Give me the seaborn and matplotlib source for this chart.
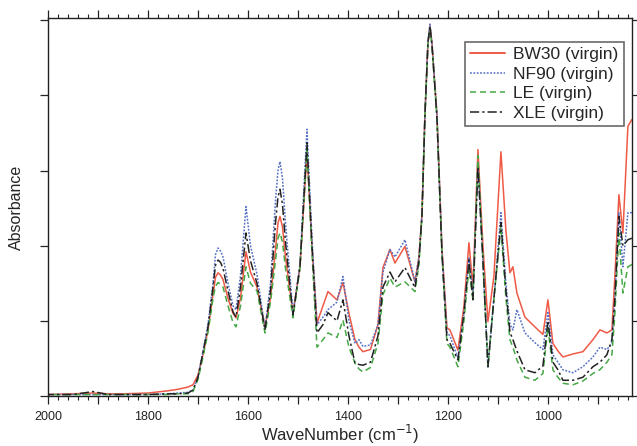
import numpy as np
import pandas as pd
import matplotlib
matplotlib.use('Agg')
import matplotlib.pyplot as plt
from matplotlib.ticker import MultipleLocator, FuncFormatter
import seaborn as sns

# wavenumber grid (cm-1)
wavenumber = [2000, 1950, 1910, 1880, 1850, 1800, 1760, 1740, 1720, 1710, 1700, 1690, 1680,
              1670, 1665, 1660, 1655, 1650, 1640, 1630, 1624, 1615, 1604, 1595, 1582, 1566,
              1555, 1545, 1540, 1536, 1531, 1525, 1510, 1496, 1482, 1472, 1462, 1450, 1440,
              1422, 1410, 1398, 1386, 1378, 1370, 1355, 1340, 1330, 1316, 1306, 1286, 1266,
              1258, 1252, 1246, 1240, 1236, 1232, 1222, 1212, 1202, 1196, 1180, 1168, 1158,
              1150, 1140, 1130, 1120, 1108, 1094, 1084, 1076, 1070, 1062, 1046, 1026, 1010,
              1000, 990, 980, 970, 950, 930, 910, 896, 882, 872, 866, 858, 850, 840, 832]

bw30 = [0.02, 0.03, 0.04, 0.03, 0.03, 0.04, 0.07, 0.09, 0.12, 0.15, 0.28, 0.55, 0.88,
        1.35, 1.58, 1.64, 1.61, 1.55, 1.30, 1.10, 1.04, 1.30, 1.92, 1.65, 1.45, 0.92,
        1.30, 1.95, 2.30, 2.39, 2.25, 1.85, 1.10, 1.72, 3.24, 2.00, 0.97, 1.20, 1.39,
        1.28, 1.51, 1.10, 0.75, 0.65, 0.59, 0.62, 0.95, 1.71, 1.95, 1.77, 1.99, 1.52,
        1.85, 2.41, 3.75, 4.70, 4.93, 4.70, 3.75, 1.97, 0.91, 0.88, 0.61, 1.20, 2.04,
        1.45, 3.28, 2.00, 0.99, 1.60, 3.25, 2.20, 1.64, 1.72, 1.37, 1.05, 0.92, 0.82,
        1.28, 0.70, 0.60, 0.52, 0.56, 0.59, 0.75, 0.88, 0.84, 0.88, 1.60, 2.68, 2.17,
        3.59, 3.68]

nf90 = [0.02, 0.02, 0.02, 0.02, 0.02, 0.02, 0.03, 0.04, 0.05, 0.08, 0.25, 0.60, 0.95,
        1.50, 1.88, 1.97, 1.93, 1.85, 1.50, 1.20, 1.15, 1.60, 2.52, 2.00, 1.62, 0.90,
        1.50, 2.60, 3.00, 3.12, 2.90, 2.30, 1.10, 1.75, 3.55, 2.10, 0.95, 1.05, 1.15,
        1.25, 1.59, 1.00, 0.70, 0.75, 0.66, 0.68, 0.95, 1.65, 1.95, 1.85, 2.08, 1.52,
        1.85, 2.41, 3.75, 4.72, 4.95, 4.70, 3.75, 1.95, 0.85, 0.80, 0.51, 1.10, 1.85,
        1.35, 3.11, 1.80, 0.39, 1.30, 2.44, 1.50, 0.95, 0.88, 1.15, 0.84, 0.71, 0.62,
        1.11, 0.55, 0.45, 0.35, 0.31, 0.39, 0.52, 0.65, 0.62, 0.70, 1.30, 2.44, 1.72,
        2.44, 2.44]

le = [0.02, 0.02, 0.02, 0.02, 0.02, 0.02, 0.02, 0.03, 0.03, 0.06, 0.22, 0.52, 0.85,
      1.30, 1.46, 1.51, 1.49, 1.45, 1.20, 0.98, 0.92, 1.20, 1.72, 1.50, 1.40, 0.84,
      1.25, 1.80, 2.10, 2.17, 2.05, 1.70, 1.04, 1.70, 3.28, 1.90, 0.65, 0.75, 0.84,
      0.78, 1.01, 0.65, 0.44, 0.36, 0.32, 0.38, 0.70, 1.35, 1.57, 1.45, 1.52, 1.39,
      1.75, 2.38, 3.72, 4.68, 4.90, 4.66, 3.70, 1.90, 0.70, 0.65, 0.39, 1.00, 1.70,
      1.28, 3.20, 1.80, 0.39, 1.30, 2.25, 1.30, 0.75, 0.65, 0.48, 0.25, 0.21, 0.30,
      0.92, 0.35, 0.25, 0.17, 0.15, 0.20, 0.30, 0.35, 0.45, 0.55, 1.10, 2.17, 1.37,
      1.72, 1.75]

xle = [0.02, 0.02, 0.06, 0.02, 0.02, 0.02, 0.03, 0.03, 0.04, 0.08, 0.25, 0.58, 0.92,
       1.45, 1.74, 1.81, 1.78, 1.70, 1.40, 1.12, 1.05, 1.45, 2.17, 1.80, 1.50, 0.88,
       1.40, 2.30, 2.65, 2.75, 2.55, 2.05, 1.08, 1.72, 3.37, 2.00, 0.84, 0.95, 1.11,
       1.00, 1.28, 0.80, 0.44, 0.42, 0.41, 0.45, 0.80, 1.45, 1.65, 1.52, 1.71, 1.44,
       1.80, 2.40, 3.75, 4.70, 4.92, 4.68, 3.70, 1.90, 0.75, 0.70, 0.48, 1.10, 1.81,
       1.28, 3.05, 1.80, 0.39, 1.30, 2.31, 1.40, 0.85, 0.75, 0.60, 0.35, 0.31, 0.40,
       1.00, 0.45, 0.35, 0.21, 0.21, 0.25, 0.39, 0.45, 0.55, 0.75, 1.30, 2.39, 2.00,
       2.08, 2.10]

labels = ['BW30 (virgin)', 'NF90 (virgin)', 'LE (virgin)', 'XLE (virgin)']


def main():
    df = pd.concat([
        pd.DataFrame({'wn': wavenumber, 'abs': vals, 'sample': lab})
        for lab, vals in zip(labels, [bw30, nf90, le, xle])
    ], ignore_index=True)

    sns.set_style('ticks')
    plt.rcParams['font.family'] = ['Liberation Sans', 'DejaVu Sans']

    fig = plt.figure(figsize=(6.37, 4.46), dpi=100)
    ax = fig.add_axes([0.0754, 0.112, 0.9166, 0.8476])

    palette = {labels[0]: '#ee5a45', labels[1]: '#5570c4',
               labels[2]: '#45a845', labels[3]: '#222222'}
    dashes = {labels[0]: '', labels[1]: (1.2, 1.0),
              labels[2]: (4, 2.5), labels[3]: (6, 2, 1.5, 2)}
    sns.lineplot(data=df, x='wn', y='abs', hue='sample', style='sample',
                 palette=palette, dashes=dashes, estimator=None, sort=True,
                 linewidth=1.1, ax=ax)
    for line in ax.get_lines():
        if line.get_label() == labels[0]:
            line.set_linewidth(1.4)

    ax.set_xlim(2000, 832)
    ax.set_ylim(0, 5.03)
    ax.xaxis.set_major_locator(MultipleLocator(100))
    ax.xaxis.set_minor_locator(MultipleLocator(20))
    ax.xaxis.set_major_formatter(FuncFormatter(
        lambda v, p: f'{int(round(v))}' if int(round(v)) % 200 == 0 else ''))
    ax.yaxis.set_major_locator(MultipleLocator(1))
    ax.yaxis.set_major_formatter(FuncFormatter(lambda v, p: ''))
    ax.tick_params(axis='x', which='both', top=True, bottom=True, direction='out',
                   labelsize=9, colors='#222222', pad=5)
    ax.tick_params(axis='x', which='major', length=6, width=0.9)
    ax.tick_params(axis='x', which='minor', length=3, width=0.8)
    ax.tick_params(axis='y', which='major', left=True, right=True, direction='out',
                   length=6, width=0.9)
    for s in ax.spines.values():
        s.set_visible(True)
        s.set_linewidth(1.0)
        s.set_color('#222222')

    ax.set_xlabel('WaveNumber (cm$^{-1}$)', fontsize=12)
    ax.xaxis.set_label_coords(0.5, -0.072)
    ax.set_ylabel('Absorbance', fontsize=11.5, labelpad=8)

    leg = ax.legend(loc='upper right', bbox_to_anchor=(0.986, 0.937), fontsize=12.5,
                    frameon=True, fancybox=False, handlelength=2.0,
                    labelspacing=0.25, borderpad=0.3, handletextpad=0.5,
                    borderaxespad=0.0)
    leg.get_frame().set_edgecolor('#444444')
    leg.get_frame().set_linewidth(1.2)

    fig.savefig('out.png', dpi=100)
    plt.close(fig)


if __name__ == '__main__':
    main()
